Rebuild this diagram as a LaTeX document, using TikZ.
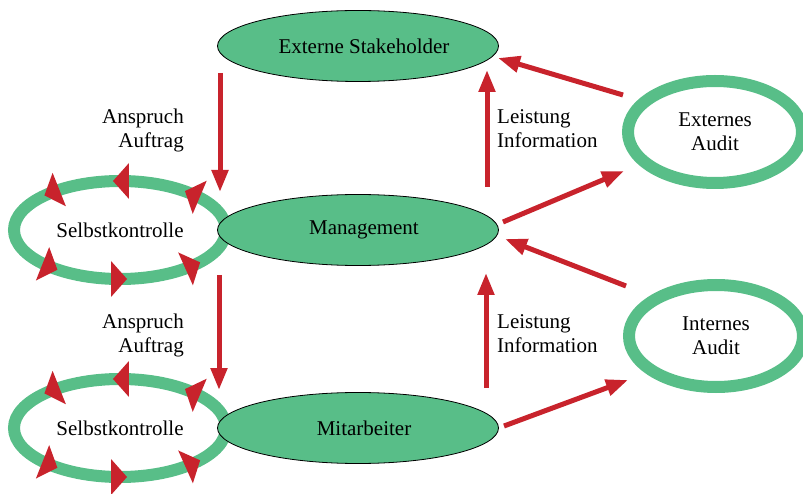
\documentclass[tikz,border=0pt]{standalone}
\usepackage{fontspec}
\setmainfont{Liberation Serif}
\usetikzlibrary{shapes.geometric,arrows.meta,decorations.markings,calc}
\definecolor{ovalgreen}{RGB}{88,190,136}
\definecolor{flowred}{RGB}{200,35,44}
\newcommand{\ringtip}{\fill[flowred] (7pt,0) -- (-9pt,18pt) -- (-9pt,-18pt) -- cycle;}
\begin{document}
\begin{tikzpicture}[x=1pt,y=1pt,
        font=\fontsize{21}{24}\selectfont,
        oval/.style={ellipse,fill=ovalgreen,draw=black,line width=0.8pt,minimum width=281pt,minimum height=71pt},
        ring/.style={ellipse,draw=ovalgreen,line width=12pt,align=center},
        ringarrows/.style={postaction={decorate},decoration={markings,
            mark=at position 0.105 with {\ringtip},mark=at position 0.25 with {\ringtip},
            mark=at position 0.39 with {\ringtip},mark=at position 0.61 with {\ringtip},
            mark=at position 0.75 with {\ringtip},mark=at position 0.9 with {\ringtip}}},
        flow/.style={draw=flowred,line width=5pt,-{Triangle[length=22pt,width=16pt]}},
        lbl/.style={inner sep=0pt}]
    \useasboundingbox (0,0) rectangle (803,493);
    % self control loops and audits
    \node[ring,ringarrows,minimum width=212pt,minimum height=98pt] (sk1) at (120,263) {Selbstkontrolle};
    \node[ring,ringarrows,minimum width=212pt,minimum height=98pt] (sk2) at (120,65) {Selbstkontrolle};
    \node[ring,minimum width=174pt,minimum height=102pt] (extaud) at (715,361) {Externes\\Audit};
    \node[ring,minimum width=174pt,minimum height=102pt] (intaud) at (716,157) {Internes\\Audit};
    % levels
    \node[oval] (ext) at (358,447) {\hspace*{12pt}Externe Stakeholder};
    \node[oval] (mgmt) at (358,263) {\hspace*{12pt}Management};
    \node[oval] (mit) at (358,65) {\hspace*{12pt}Mitarbeiter};
    % labels
    \node[lbl,align=right,anchor=east] (req1) at (184,363) {Anspruch\\Auftrag};
    \node[lbl,align=right,anchor=east] (req2) at (184,158) {Anspruch\\Auftrag};
    \node[lbl,align=left,anchor=west] (perf1) at (497,364) {Leistung\\Information};
    \node[lbl,align=left,anchor=west] (perf2) at (497,159) {Leistung\\Information};
    % flows
    \draw[flow] ($(ext)+(-138,-27)$) -- ($(mgmt)+(-138,38)$);
    \draw[flow] ($(mgmt)+(129,43)$) -- ($(ext)+(129,-24)$);
    \draw[flow] ($(extaud)+(-92,37)$) -- ($(ext)+(140,-12)$);
    \draw[flow] ($(mgmt)+(145,8)$) -- ($(extaud)+(-91,-39)$);
    \draw[flow] ($(intaud)+(-90,50)$) -- ($(mgmt)+(147,-9)$);
    \draw[flow] ($(mgmt)+(-139,-45)$) -- ($(mit)+(-139,38)$);
    \draw[flow] ($(mit)+(128,40)$) -- ($(mgmt)+(128,-43)$);
    \draw[flow] ($(mit)+(146,2)$) -- ($(intaud)+(-88,-44)$);
\end{tikzpicture}
\end{document}
